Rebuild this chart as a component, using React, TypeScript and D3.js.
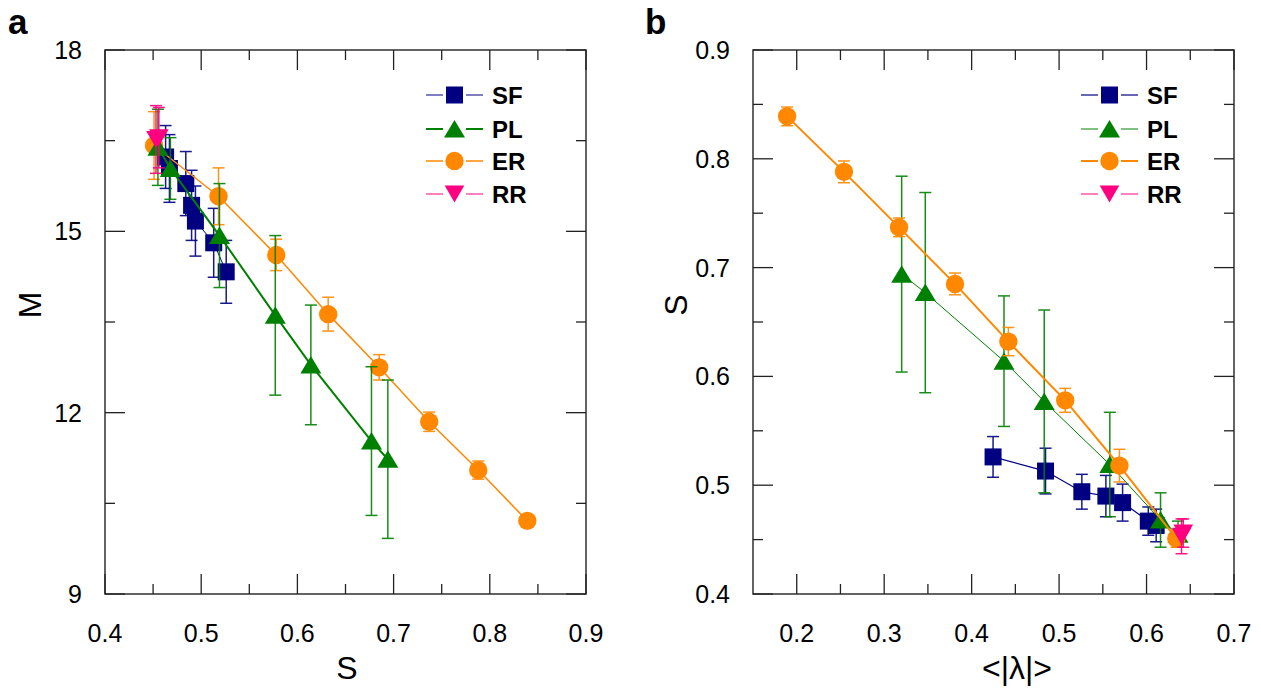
import React from "react";
import * as d3 from "d3";

// ---------- data ----------
const SERIES_NAMES = ["SF", "PL", "ER", "RR"];

const SF_S = [0.526, 0.513, 0.494, 0.49, 0.484, 0.467, 0.463];
const SF_M = [14.33, 14.81, 15.17, 15.43, 15.79, 16.04, 16.23];
const SF_Merr = [0.52, 0.57, 0.58, 0.58, 0.53, 0.56, 0.52];
const SF_L = [0.4245, 0.4845, 0.526, 0.5535, 0.5726, 0.602, 0.611];
const SF_Serr = [0.0187, 0.021, 0.016, 0.019, 0.017, 0.013, 0.015];

const PL_S = [0.694, 0.677, 0.614, 0.577, 0.519, 0.468, 0.455];
const PL_M = [11.23, 11.53, 12.79, 13.61, 14.93, 16.04, 16.39];
const PL_Merr = [1.31, 1.23, 0.99, 1.32, 0.86, 0.51, 0.63];
const PL_L = [0.32, 0.347, 0.437, 0.483, 0.558, 0.616, 0.636];
const PL_Serr = [0.09, 0.092, 0.06, 0.084, 0.048, 0.025, 0.012];

const ER_S = [0.839, 0.788, 0.737, 0.685, 0.632, 0.578, 0.518, 0.451];
const ER_M = [10.21, 11.05, 11.85, 12.75, 13.63, 14.61, 15.58, 16.42];
const ER_Merr = [0.05, 0.15, 0.16, 0.21, 0.28, 0.26, 0.47, 0.56];
const ER_L = [0.189, 0.254, 0.317, 0.381, 0.442, 0.507, 0.569, 0.634];
const ER_Serr = [0.0086, 0.01, 0.0086, 0.01, 0.013, 0.011, 0.015, 0.008];

const RR_S = [0.453, 0.456];
const RR_M = [16.52, 16.55];
const RR_Merr = [0.56, 0.5];
const RR_L = [0.64, 0.642];
const RR_Serr = [0.016, 0.013];

const A_X_MAJOR = [0.4, 0.5, 0.6, 0.7, 0.8, 0.9];
const A_X_MINOR = [0.45, 0.55, 0.65, 0.75, 0.85];
const A_Y_MAJOR = [9, 12, 15, 18];
const A_Y_MINOR = [10.5, 13.5, 16.5];

const B_X_MAJOR = [0.2, 0.3, 0.4, 0.5, 0.6, 0.7];
const B_X_MINOR = [0.25, 0.35, 0.45, 0.55, 0.65];
const B_Y_MAJOR = [0.4, 0.5, 0.6, 0.7, 0.8, 0.9];
const B_Y_MINOR = [0.45, 0.55, 0.65, 0.75, 0.85];

// ---------- styles ----------
const FONT = "'Liberation Sans', Arial, Helvetica, sans-serif";
const STYLE: Record<string, { color: string; shape: string; lwA: number; lwB: number }> = {
  SF: { color: "#000080", shape: "square", lwA: 1, lwB: 1.2 },
  PL: { color: "#008000", shape: "triUp", lwA: 2, lwB: 1 },
  ER: { color: "#ff8800", shape: "circle", lwA: 1.5, lwB: 2 },
  RR: { color: "#ff0080", shape: "triDown", lwA: 1, lwB: 1 },
};

const RAW: Record<string, { S: number[]; M: number[]; Merr: number[]; L: number[]; Serr: number[] }> = {
  SF: { S: SF_S, M: SF_M, Merr: SF_Merr, L: SF_L, Serr: SF_Serr },
  PL: { S: PL_S, M: PL_M, Merr: PL_Merr, L: PL_L, Serr: PL_Serr },
  ER: { S: ER_S, M: ER_M, Merr: ER_Merr, L: ER_L, Serr: ER_Serr },
  RR: { S: RR_S, M: RR_M, Merr: RR_Merr, L: RR_L, Serr: RR_Serr },
};

function Marker({ shape, x, y, color }: { shape: string; x: number; y: number; color: string }) {
  if (shape === "circle") return <circle cx={x} cy={y} r={9.2} fill={color} />;
  let d = "";
  if (shape === "square") d = "M-8.5,-8.5h17v17h-17Z";
  if (shape === "triUp") d = "M0,-9L10.5,8.5L-10.5,8.5Z";
  if (shape === "triDown") d = "M0,8.5L9.8,-8.5L-9.8,-8.5Z";
  return <path d={d} transform={`translate(${x},${y})`} fill={color} />;
}

type PanelProps = {
  label: string;
  x0: number; x1: number; y0: number; y1: number;
  xDomain: [number, number]; yDomain: [number, number];
  xMajor: number[]; xMinor: number[]; yMajor: number[]; yMinor: number[];
  xFmt: (v: number) => string; yFmt: (v: number) => string;
  xTitle: string; yTitle: string; xTitleX: number; yTitleX: number;
  panel: "A" | "B";
  order: string[];
  legendX: number;
};

function Panel(p: PanelProps) {
  const xs = d3.scaleLinear().domain(p.xDomain).range([p.x0, p.x1]);
  const ys = d3.scaleLinear().domain(p.yDomain).range([p.y1, p.y0]);
  const tc = "#222";
  const tw = 1.3;
  const major = 20, minor = 10;
  const line = d3.line<[number, number]>().x((d) => xs(d[0])).y((d) => ys(d[1]));

  const ticks: JSX.Element[] = [];
  const addX = (vals: number[], len: number, key: string) =>
    vals.forEach((v, i) => {
      ticks.push(<line key={`xb${key}${i}`} x1={xs(v)} x2={xs(v)} y1={p.y1} y2={p.y1 - len} stroke={tc} strokeWidth={tw} />);
      ticks.push(<line key={`xt${key}${i}`} x1={xs(v)} x2={xs(v)} y1={p.y0} y2={p.y0 + len} stroke={tc} strokeWidth={tw} />);
    });
  const addY = (vals: number[], len: number, key: string) =>
    vals.forEach((v, i) => {
      ticks.push(<line key={`yl${key}${i}`} x1={p.x0} x2={p.x0 + len} y1={ys(v)} y2={ys(v)} stroke={tc} strokeWidth={tw} />);
      ticks.push(<line key={`yr${key}${i}`} x1={p.x1} x2={p.x1 - len} y1={ys(v)} y2={ys(v)} stroke={tc} strokeWidth={tw} />);
    });
  addX(p.xMajor, major, "M");
  addX(p.xMinor, minor, "m");
  addY(p.yMajor, major, "M");
  addY(p.yMinor, minor, "m");

  const seriesEls = p.order.map((name) => {
    const r = RAW[name];
    const st = STYLE[name];
    const xv = p.panel === "A" ? r.S : r.L;
    const yv = p.panel === "A" ? r.M : r.S;
    const ev = p.panel === "A" ? r.Merr : r.Serr;
    const pts: [number, number][] = xv.map((x, i) => [x, yv[i]]);
    const sortedPts = [...pts].sort((a, b) => a[0] - b[0]);
    const lw = p.panel === "A" ? st.lwA : st.lwB;
    return (
      <g key={name}>
        <path d={line(sortedPts) || ""} fill="none" stroke={st.color} strokeWidth={lw} />
        {pts.map((d, i) => {
          const cx = xs(d[0]);
          const yt = ys(d[1] + ev[i]);
          const yb = ys(d[1] - ev[i]);
          return (
            <g key={i} stroke={st.color} strokeWidth={1.5} opacity={0.9}>
              <line x1={cx} x2={cx} y1={yt} y2={yb} />
              <line x1={cx - 6} x2={cx + 6} y1={yt} y2={yt} />
              <line x1={cx - 6} x2={cx + 6} y1={yb} y2={yb} />
            </g>
          );
        })}
        {pts.map((d, i) => (
          <Marker key={`m${i}`} shape={st.shape} x={xs(d[0])} y={ys(d[1])} color={st.color} />
        ))}
      </g>
    );
  });

  const legendRows = [95, 129, 161, 194];
  const lx = p.legendX;

  return (
    <g>
      <rect x={p.x0} y={p.y0} width={p.x1 - p.x0} height={p.y1 - p.y0} fill="none" stroke={tc} strokeWidth={1.4} />
      {ticks}
      {p.xMajor.map((v, i) => (
        <text key={`xl${i}`} x={xs(v)} y={p.y1 + 48} textAnchor="middle" fontSize={25} fontFamily={FONT}>
          {p.xFmt(v)}
        </text>
      ))}
      {p.yMajor.map((v, i) => (
        <text key={`yl${i}`} x={p.x0 - 23} y={ys(v)} dy="0.36em" textAnchor="end" fontSize={25} fontFamily={FONT}>
          {p.yFmt(v)}
        </text>
      ))}
      <text x={p.xTitleX} y={679} textAnchor="middle" fontSize={32} fontFamily={FONT}>
        {p.xTitle}
      </text>
      <text
        x={p.yTitleX}
        y={305}
        textAnchor="middle"
        fontSize={32}
        fontFamily={FONT}
        transform={`rotate(-90, ${p.yTitleX}, 305)`}
      >
        {p.yTitle}
      </text>
      <text x={p.panel === "A" ? 8 : 645} y={34} fontSize={35} fontWeight="bold" fontFamily={FONT}>
        {p.label}
      </text>
      {seriesEls}
      {SERIES_NAMES.map((name, i) => {
        const st = STYLE[name];
        const yy = legendRows[i];
        const lw = p.panel === "A" ? st.lwA : st.lwB;
        return (
          <g key={`lg${name}`}>
            <line x1={lx} x2={lx + 17} y1={yy} y2={yy} stroke={st.color} strokeWidth={lw} />
            <line x1={lx + 40} x2={lx + 57} y1={yy} y2={yy} stroke={st.color} strokeWidth={lw} />
            <Marker shape={st.shape} x={lx + 28.5} y={yy} color={st.color} />
            <text x={lx + 66} y={yy} dy="0.36em" fontSize={24} fontWeight="bold" fontFamily={FONT}>
              {name}
            </text>
          </g>
        );
      })}
    </g>
  );
}

export default function App() {
  const f1 = d3.format(".1f");
  const f0 = d3.format("d");
  return (
    <svg width={1261} height={689} style={{ position: "absolute", left: 0, top: 0, background: "#fff" }}>
      <rect width={1261} height={689} fill="#fff" />
      <Panel
        label="a"
        panel="A"
        x0={105} x1={586} y0={50} y1={594}
        xDomain={[0.4, 0.9]} yDomain={[9, 18]}
        xMajor={A_X_MAJOR} xMinor={A_X_MINOR} yMajor={A_Y_MAJOR} yMinor={A_Y_MINOR}
        xFmt={f1} yFmt={f0}
        xTitle="S" yTitle="M" xTitleX={347} yTitleX={41}
        order={["SF", "ER", "PL", "RR"]}
        legendX={426}
      />
      <Panel
        label="b"
        panel="B"
        x0={753} x1={1234} y0={50} y1={594}
        xDomain={[0.15, 0.7]} yDomain={[0.4, 0.9]}
        xMajor={B_X_MAJOR} xMinor={B_X_MINOR} yMajor={B_Y_MAJOR} yMinor={B_Y_MINOR}
        xFmt={f1} yFmt={f1}
        xTitle="<|λ|>" yTitle="S" xTitleX={1017} yTitleX={687}
        order={["SF", "PL", "ER", "RR"]}
        legendX={1081}
      />
    </svg>
  );
}
